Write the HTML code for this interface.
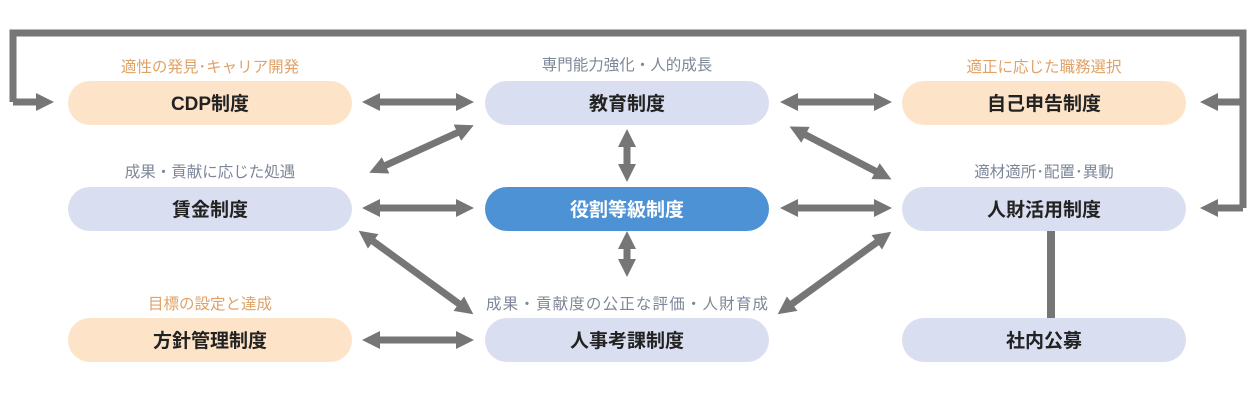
<!DOCTYPE html>
<html><head><meta charset="utf-8"><style>
html,body{margin:0;padding:0;background:#fff;width:1259px;height:400px;overflow:hidden}
svg{display:block}
text{font-family:"Liberation Sans","Noto Sans CJK JP",sans-serif}
.b{font-size:19px;font-weight:bold;fill:#222;text-anchor:middle}
.lo{font-size:15.5px;fill:#e0a266;text-anchor:middle}
.lg{font-size:15.5px;fill:#7d8797;text-anchor:middle}
.a{stroke:#767676;stroke-width:7;fill:none}
</style></head><body>
<svg width="1259" height="400" viewBox="0 0 1259 400">
<defs>
<marker id="h" markerUnits="userSpaceOnUse" markerWidth="20" markerHeight="20" refX="4" refY="10" orient="auto-start-reverse">
<polygon points="0,1 18,10 0,19" fill="#767676"/>
</marker>
</defs>
<polyline class="a" points="13,102 13,33 1243,33 1243,208" />
<line class="a" x1="13" y1="102" x2="40" y2="102" marker-end="url(#h)"/>
<line class="a" x1="1243" y1="102" x2="1214" y2="102" marker-end="url(#h)"/>
<line class="a" x1="1243" y1="208" x2="1214" y2="208" marker-end="url(#h)"/>
<rect x="68" y="81" width="284" height="44" rx="22" fill="#fde4c9"/>
<rect x="485" y="81" width="284" height="44" rx="22" fill="#d9dff0"/>
<rect x="902" y="81" width="284" height="44" rx="22" fill="#fde4c9"/>
<rect x="68" y="187" width="284" height="44" rx="22" fill="#d9dff0"/>
<rect x="485" y="187" width="284" height="44" rx="22" fill="#4e92d6"/>
<rect x="902" y="187" width="284" height="44" rx="22" fill="#d9dff0"/>
<rect x="68" y="318" width="284" height="44" rx="22" fill="#fde4c9"/>
<rect x="485" y="318" width="284" height="44" rx="22" fill="#d9dff0"/>
<rect x="902" y="318" width="284" height="44" rx="22" fill="#d9dff0"/>
<line x1="1051" y1="231" x2="1051" y2="318" stroke="#767676" stroke-width="8"/>
<text class="lo" x="210" y="72">適性の発見･キャリア開発</text>
<text class="lg" x="627" y="70">専門能力強化・人的成長</text>
<text class="lo" x="1044" y="72">適正に応じた職務選択</text>
<text class="lg" x="210" y="177">成果・貢献に応じた処遇</text>
<text class="lg" x="1044" y="177">適材適所･配置･異動</text>
<text class="lo" x="210" y="309">目標の設定と達成</text>
<text class="lg" x="627" y="309" textLength="282">成果・貢献度の公正な評価・人財育成</text>
<text class="b" x="210" y="110">CDP制度</text>
<text class="b" x="627" y="110">教育制度</text>
<text class="b" x="1044" y="110">自己申告制度</text>
<text class="b" x="210" y="216">賃金制度</text>
<text class="b" x="627" y="216" style="fill:#fff">役割等級制度</text>
<text class="b" x="1044" y="216">人財活用制度</text>
<text class="b" x="210" y="347">方針管理制度</text>
<text class="b" x="627" y="347">人事考課制度</text>
<text class="b" x="1044" y="347">社内公募</text>
<g>
<line class="a" x1="376" y1="102" x2="460" y2="102" marker-start="url(#h)" marker-end="url(#h)"/>
<line class="a" x1="376" y1="208" x2="460" y2="208" marker-start="url(#h)" marker-end="url(#h)"/>
<line class="a" x1="376" y1="340" x2="460" y2="340" marker-start="url(#h)" marker-end="url(#h)"/>
<line class="a" x1="794" y1="102" x2="878" y2="102" marker-start="url(#h)" marker-end="url(#h)"/>
<line class="a" x1="794" y1="208" x2="878" y2="208" marker-start="url(#h)" marker-end="url(#h)"/>
<line class="a" x1="627" y1="143" x2="627" y2="168" marker-start="url(#h)" marker-end="url(#h)"/>
<line class="a" x1="627" y1="245" x2="627" y2="263" marker-start="url(#h)" marker-end="url(#h)"/>
<line class="a" x1="382" y1="167" x2="461" y2="131" marker-start="url(#h)" marker-end="url(#h)"/>
<line class="a" x1="370" y1="239" x2="462" y2="306" marker-start="url(#h)" marker-end="url(#h)"/>
<line class="a" x1="802" y1="133" x2="879" y2="173" marker-start="url(#h)" marker-end="url(#h)"/>
<line class="a" x1="789" y1="306" x2="880" y2="240" marker-start="url(#h)" marker-end="url(#h)"/>
</g>
</svg>
</body></html>
